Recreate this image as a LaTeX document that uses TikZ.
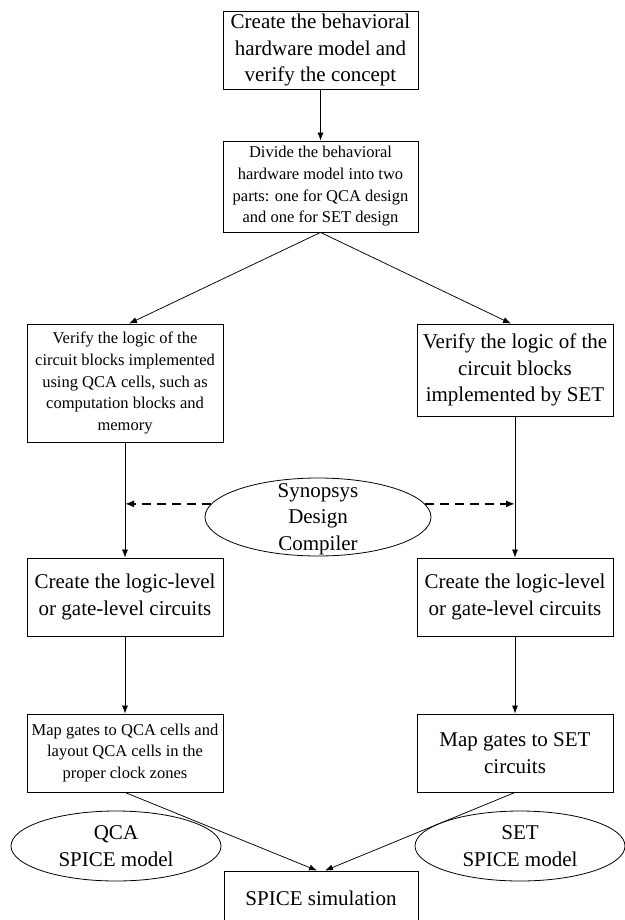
\documentclass[tikz,border=0pt]{standalone}
\usepackage{fontspec}
\setmainfont{Liberation Serif}
\usetikzlibrary{shapes.geometric,arrows.meta}
\begin{document}
\begin{tikzpicture}[x=1pt,y=-1pt,
  big/.style={font=\fontsize{21}{26.5}\selectfont},
  small/.style={font=\fontsize{16.5}{21.7}\selectfont},
  box/.style={draw, line width=0.85pt, align=center, inner sep=2pt, minimum width=196pt},
  oval/.style={draw, ellipse, line width=0.8pt, inner sep=0pt},
  lbl/.style={align=center, inner sep=0pt},
  arr/.style={line width=0.75pt, -{Latex[length=8pt,width=6pt]}},
  dasharr/.style={line width=1.6pt, dash pattern=on 9pt off 6pt, -{Latex[length=9pt,width=7pt]}},
]
\useasboundingbox (0,0) rectangle (624,920);

\node[box,big,minimum height=78pt,minimum width=195pt] (b1) at (320.5,50) {Create the behavioral\\hardware model and\\verify the concept};
\node[box,small,minimum height=91pt,minimum width=195pt] (b2) at (320.5,186.5) {Divide the behavioral\\hardware model into two\\parts: one for QCA design\\and one for SET design};
\node[box,small,minimum height=118pt] (l3) at (125,383) {Verify the logic of the\\circuit blocks implemented\\using QCA cells, such as\\computation blocks and\\memory};
\node[box,big,minimum height=92pt] (r3) at (515,370) {Verify the logic of the\\circuit blocks\\implemented by SET};
\node[box,big,minimum height=78pt] (l4) at (125,597) {Create the logic-level\\or gate-level circuits};
\node[box,big,minimum height=78pt] (r4) at (515,597) {Create the logic-level\\or gate-level circuits};
\node[box,small,minimum height=78pt] (l5) at (125,753) {Map gates to QCA cells and\\layout QCA cells in the\\proper clock zones};
\node[box,big,minimum height=78pt] (r5) at (515,753) {Map gates to SET\\circuits};
\node[box,big,minimum height=54pt,minimum width=194pt] (sp) at (321,898) {SPICE simulation};

\node[oval,minimum width=226pt,minimum height=78pt] (syn) at (318,517) {};
\node[lbl,big] (synt) at (318,519) {Synopsys\\Design\\Compiler};
\node[oval,minimum width=210pt,minimum height=70pt] (qe) at (116,846) {};
\node[lbl,big] (qt) at (116,846) {QCA\\SPICE model};
\node[oval,minimum width=210pt,minimum height=70pt] (se) at (520,846) {};
\node[lbl,big] (st) at (520,846) {SET\\SPICE model};

\draw[arr] (b1) -- (b2);
\draw[arr] (b2.south) -- ([xshift=4pt]l3.north);
\draw[arr] (b2.south) -- ([xshift=-4pt]r3.north);
\draw[arr] (l3) -- (l4);
\draw[arr] (r3) -- (r4);
\draw[arr] (l4) -- (l5);
\draw[arr] (r4) -- (r5);
\draw[arr] (l5.south) -- ([xshift=-4pt]sp.north);
\draw[arr] (r5.south) -- ([xshift=4pt]sp.north);
\draw[dasharr] (syn.173) -- (syn.173 -| l3.south);
\draw[dasharr] (syn.7) -- (syn.7 -| r3.south);
\end{tikzpicture}
\end{document}
